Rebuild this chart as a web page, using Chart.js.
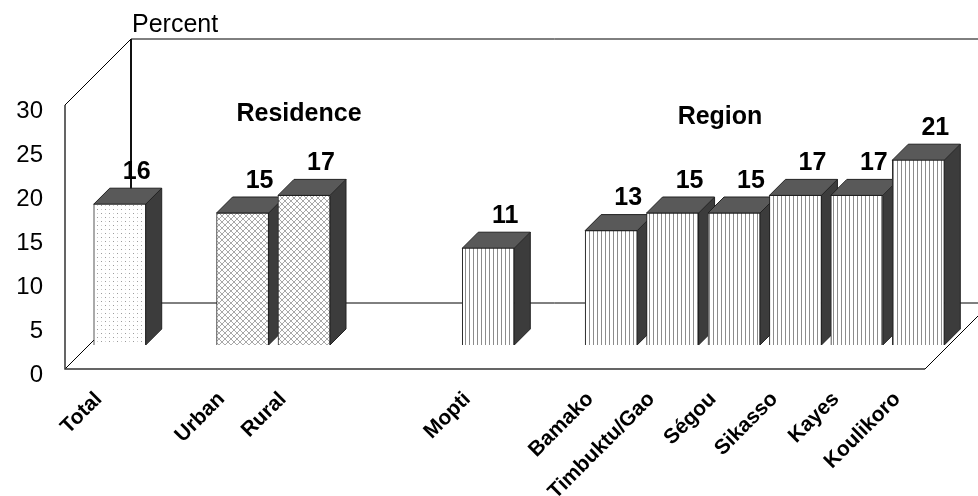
<!DOCTYPE html>
<html>
<head>
<meta charset="utf-8">
<title>Percent by residence and region</title>
<script src="https://cdn.jsdelivr.net/npm/chart.js@4/dist/chart.umd.min.js"></script>
<style>
    html, body { margin: 0; padding: 0; background: #fff; }
    canvas { display: block; }
</style>
</head>
<body>
<canvas id="barChart" width="978" height="496"></canvas>
<script>
// ============================================================
// DATA
// ============================================================
const categories = ['Total', '', 'Urban', 'Rural', '', '', 'Mopti', '', 'Bamako', 'Timbuktu/Gao', 'Ségou', 'Sikasso', 'Kayes', 'Koulikoro'];
const percentValues = [16, null, 15, 17, null, null, 11, null, 13, 15, 15, 17, 17, 21];
const fillKinds = ['dots', null, 'cross', 'cross', null, null, 'stripes', null, 'stripes', 'stripes', 'stripes', 'stripes', 'stripes', 'stripes'];
const yTicks = [0, 5, 10, 15, 20, 25, 30];

// ============================================================
// LAYOUT
// ============================================================
const FONT = '"Liberation Sans", Arial, sans-serif';
const BAR_DEPTH = 16;      // side/top face of each bar
const FLOOR_SHIFT = 24;    // bars stand this far behind the front edge of the floor
const FLOOR_DEPTH = 66;    // front edge to back wall
const TOP_FACE = '#595959';
const SIDE_FACE = '#3c3c3c';

// ============================================================
// FILL PATTERNS
// ============================================================
function makePattern(size, paint) {
    const c = document.createElement('canvas');
    c.width = size;
    c.height = size;
    const g = c.getContext('2d');
    g.fillStyle = '#fff';
    g.fillRect(0, 0, size, size);
    paint(g);
    return g.createPattern(c, 'repeat');
}

const patterns = {
    dots: makePattern(8, g => {
        g.fillStyle = '#9a9a9a';
        g.fillRect(1, 1, 1, 1);
        g.fillRect(5, 5, 1, 1);
        g.fillStyle = '#cfcfcf';
        g.fillRect(5, 1, 1, 1);
        g.fillRect(1, 5, 1, 1);
    }),
    cross: makePattern(6, g => {
        g.fillStyle = '#a8a8a8';
        for (let i = 0; i < 6; i++) {
            g.fillRect(i, i, 1, 1);
            g.fillRect(5 - i, i, 1, 1);
        }
    }),
    stripes: makePattern(4, g => {
        g.fillStyle = '#8c8c8c';
        g.fillRect(1, 0, 1, 4);
    })
};

function polygon(ctx, pts, fill) {
    ctx.beginPath();
    pts.forEach((p, i) => (i ? ctx.lineTo(p[0], p[1]) : ctx.moveTo(p[0], p[1])));
    ctx.closePath();
    ctx.fillStyle = fill;
    ctx.fill();
    ctx.strokeStyle = '#222';
    ctx.lineWidth = 1;
    ctx.stroke();
}

function line(ctx, pts, width, color) {
    ctx.beginPath();
    pts.forEach((p, i) => (i ? ctx.lineTo(p[0], p[1]) : ctx.moveTo(p[0], p[1])));
    ctx.lineWidth = width;
    ctx.strokeStyle = color;
    ctx.stroke();
}

// ============================================================
// 3D FRAME + BAR FACES (under the bars)
// ============================================================
const depthPlugin = {
    id: 'depthFaces',
    beforeDatasetsDraw(chart) {
        const { ctx, scales, width } = chart;
        const zero = scales.y.getPixelForValue(0);
        const top = scales.y.getPixelForValue(30);
        const frontX = scales.x.left - FLOOR_SHIFT;
        const frontRight = scales.x.right - FLOOR_SHIFT;
        const frontY = zero + FLOOR_SHIFT;
        const wallTop = top + FLOOR_SHIFT;
        const backX = frontX + FLOOR_DEPTH;
        const backY = frontY - FLOOR_DEPTH;

        ctx.save();
        // back wall and floor
        line(ctx, [[backX, wallTop - FLOOR_DEPTH], [width, wallTop - FLOOR_DEPTH]], 1, '#000');
        line(ctx, [[backX, wallTop - FLOOR_DEPTH], [backX, backY]], 2, '#111');
        line(ctx, [[backX, backY], [width, backY]], 1, '#000');
        line(ctx, [[frontX, frontY], [backX, backY]], 1, '#000');
        line(ctx, [[frontX, wallTop], [backX, wallTop - FLOOR_DEPTH]], 1, '#000');
        line(ctx, [[frontRight, frontY], [width, frontY - (width - frontRight)]], 1, '#000');
        // front axes
        line(ctx, [[frontX, wallTop], [frontX, frontY], [frontRight, frontY]], 1.5, '#333');

        // side and top of each bar, left to right so neighbours overlap properly
        chart.getDatasetMeta(0).data.forEach((bar, i) => {
            if (percentValues[i] == null) return;
            const half = bar.width / 2;
            const l = bar.x - half;
            const r = bar.x + half;
            polygon(ctx, [[r, bar.y], [r + BAR_DEPTH, bar.y - BAR_DEPTH], [r + BAR_DEPTH, bar.base - BAR_DEPTH], [r, bar.base]], SIDE_FACE);
            polygon(ctx, [[l, bar.y], [l + BAR_DEPTH, bar.y - BAR_DEPTH], [r + BAR_DEPTH, bar.y - BAR_DEPTH], [r, bar.y]], TOP_FACE);
        });
        ctx.restore();
    },
    afterDatasetsDraw(chart) {
        const { ctx } = chart;
        ctx.save();
        ctx.fillStyle = '#000';
        ctx.textAlign = 'center';
        ctx.textBaseline = 'middle';
        ctx.font = 'bold 25px ' + FONT;

        // value labels
        chart.getDatasetMeta(0).data.forEach((bar, i) => {
            if (percentValues[i] == null) return;
            ctx.fillText(String(percentValues[i]), bar.x + 17, bar.y - 32);
        });

        // group headings
        ctx.fillText('Residence', 299, 114);
        ctx.fillText('Region', 720, 117);

        // axis caption
        ctx.font = '25px ' + FONT;
        ctx.textAlign = 'left';
        ctx.fillText('Percent', 132, 25);
        ctx.restore();
    }
};

// ============================================================
// CHART
// ============================================================
new Chart(document.getElementById('barChart'), {
    type: 'bar',
    data: {
        labels: categories,
        datasets: [{
            label: 'Percent',
            data: percentValues,
            backgroundColor: fillKinds.map(k => (k ? patterns[k] : 'transparent')),
            borderColor: '#222',
            borderWidth: 1,
            barThickness: 52
        }]
    },
    options: {
        responsive: false,
        animation: false,
        layout: { autoPadding: false, padding: { top: 81, right: 29, left: 0, bottom: 0 } },
        plugins: {
            legend: { display: false },
            tooltip: { enabled: false }
        },
        scales: {
            x: {
                grid: { display: false, drawTicks: false },
                border: { display: false },
                afterFit(scale) {
                    // rotated labels would otherwise eat into the plot width
                    scale.height = 151;
                    scale.paddingLeft = 0;
                    scale.paddingRight = 0;
                },
                ticks: {
                    autoSkip: false,
                    minRotation: 45,
                    maxRotation: 45,
                    padding: 42,
                    labelOffset: -21,
                    color: '#000',
                    font: { family: FONT, size: 21, weight: 'bold' }
                }
            },
            y: {
                min: 0,
                max: 30,
                grid: { display: false, drawTicks: false },
                border: { display: false },
                afterFit(scale) { scale.width = 89; },
                afterBuildTicks(scale) { scale.ticks = yTicks.map(v => ({ value: v })); },
                ticks: {
                    padding: 46,
                    labelOffset: 30,
                    color: '#000',
                    font: { family: FONT, size: 24 }
                }
            }
        }
    },
    plugins: [depthPlugin]
});
</script>
</body>
</html>
